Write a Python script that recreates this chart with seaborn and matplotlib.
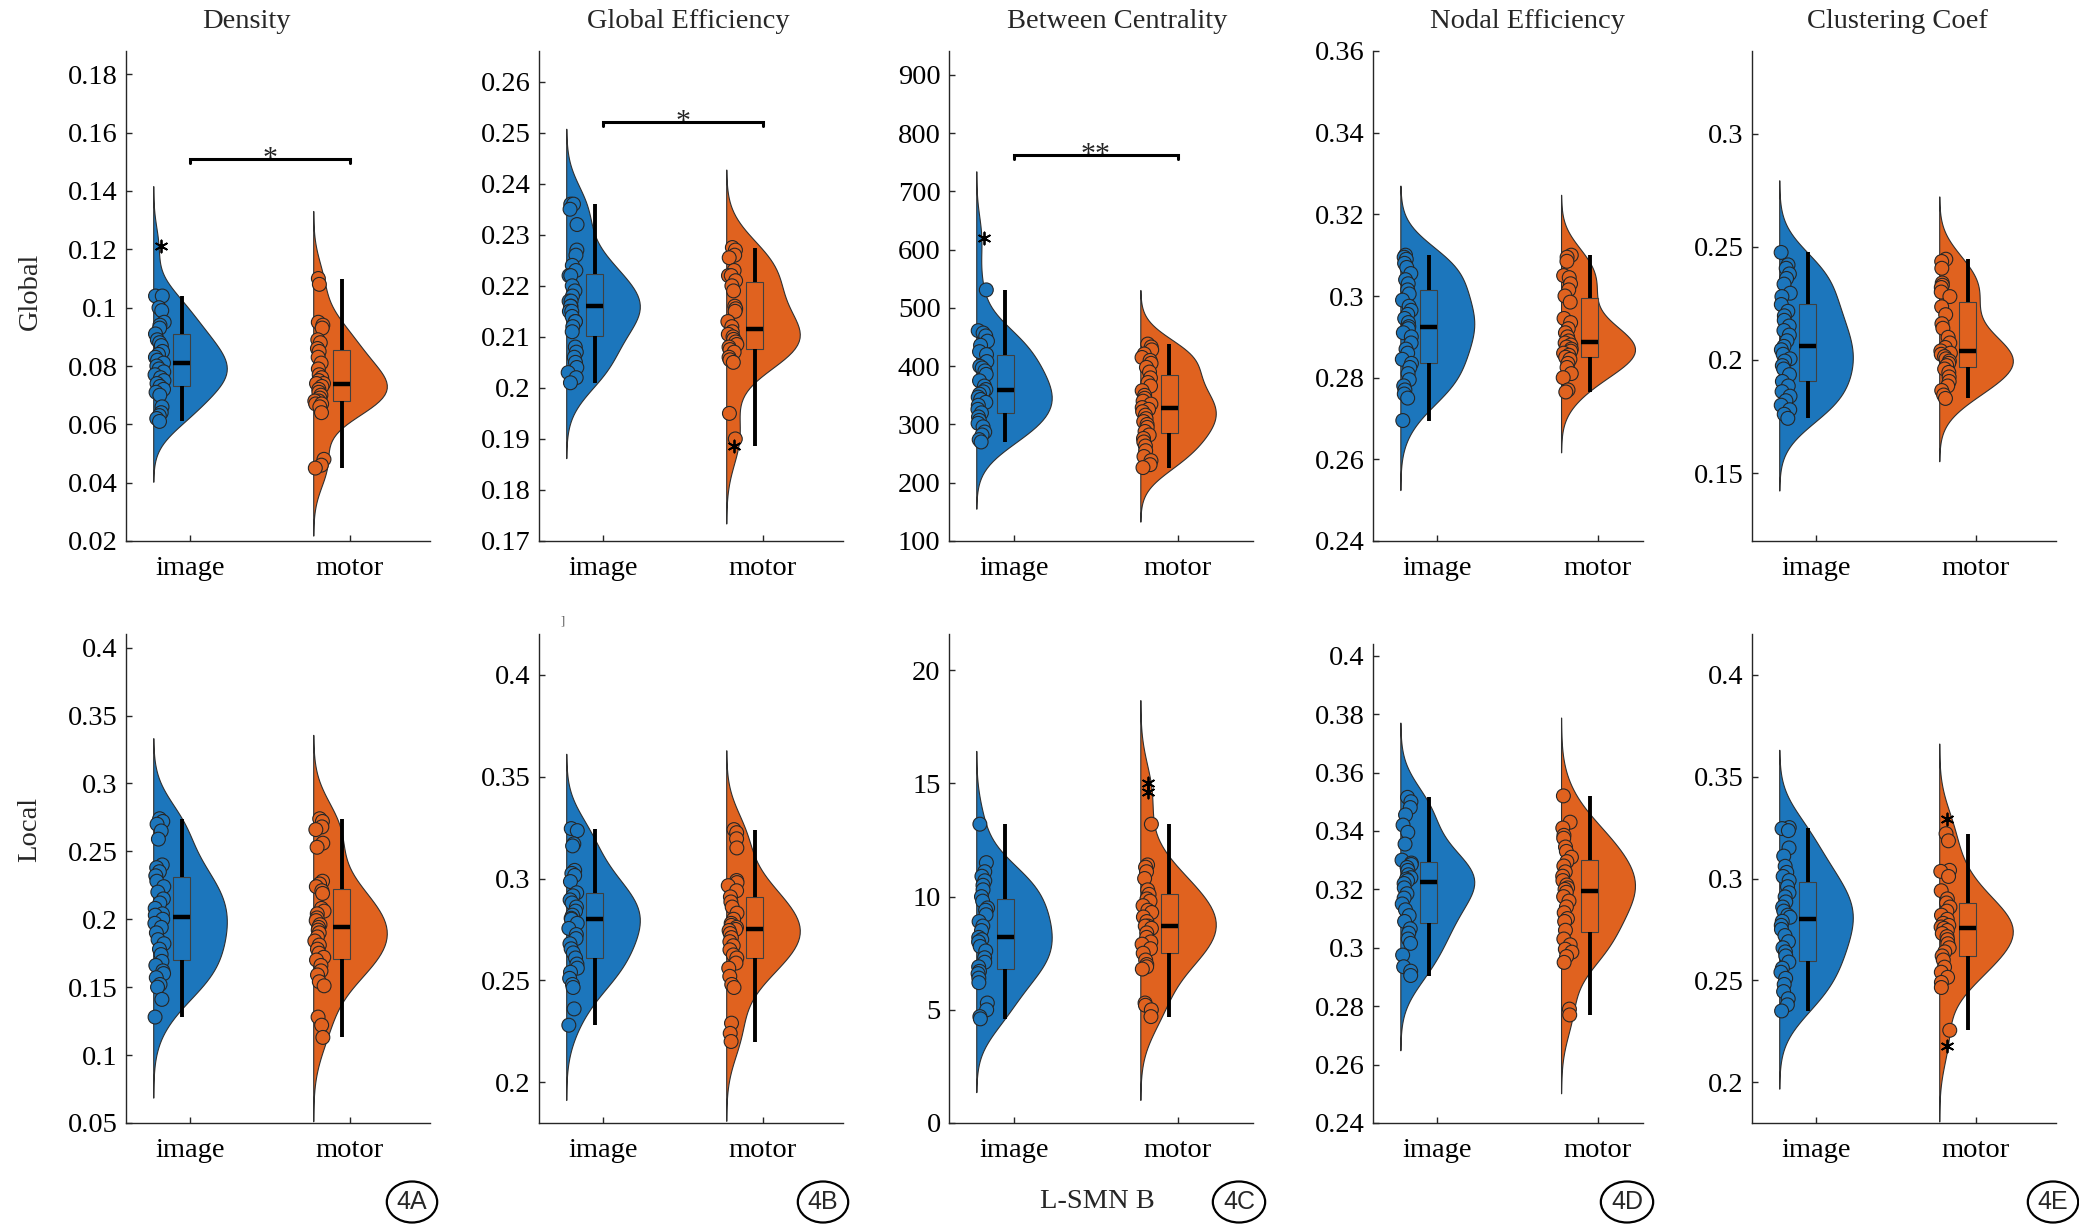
import numpy as np
import pandas as pd
import matplotlib.pyplot as plt
import seaborn as sns

sns.set_theme(style='ticks')
plt.rcParams['font.family'] = ['Liberation Serif', 'DejaVu Serif']
plt.rcParams['axes.edgecolor'] = '#262626'
plt.rcParams['axes.linewidth'] = 1.0
np.random.seed(7)  # strip jitter only

W, H = 2079, 1229
BLUE = '#1C76BC'
ORANGE = '#E0621F'
HUE_ORDER = ['_a', 'image', '_b', 'motor']
PAL = {'_a': BLUE, 'image': BLUE, '_b': ORANGE, 'motor': ORANGE}

titles = ['Density', 'Global Efficiency', 'Between Centrality', 'Nodal Efficiency', 'Clustering Coef']
row_labels = ['Global', 'Local']
panel_tags = ['4A', '4B', '4C', '4D', '4E']

# ---- Density ----
den_glob_img = [0.104, 0.104, 0.100, 0.099, 0.095, 0.094, 0.093, 0.091, 0.089, 0.088, 0.087,
                0.085, 0.084, 0.083, 0.082, 0.081, 0.080, 0.079, 0.078, 0.077, 0.076, 0.075,
                0.074, 0.073, 0.072, 0.071, 0.070, 0.066, 0.064, 0.063, 0.062, 0.061]
den_glob_img_out = [0.121]
den_glob_mot = [0.110, 0.108, 0.095, 0.094, 0.093, 0.089, 0.088, 0.086, 0.085, 0.083, 0.081,
                0.079, 0.077, 0.076, 0.075, 0.074, 0.074, 0.073, 0.072, 0.071, 0.070, 0.069,
                0.068, 0.068, 0.067, 0.067, 0.066, 0.064, 0.048, 0.046, 0.045]
den_glob_mot_out = []
den_loc_img = [0.274, 0.272, 0.270, 0.265, 0.259, 0.240, 0.238, 0.235, 0.232, 0.228, 0.224,
               0.220, 0.215, 0.212, 0.208, 0.204, 0.203, 0.200, 0.197, 0.194, 0.190, 0.185,
               0.182, 0.178, 0.174, 0.169, 0.166, 0.162, 0.160, 0.157, 0.152, 0.150, 0.141, 0.128]
den_loc_img_out = []
den_loc_mot = [0.274, 0.272, 0.268, 0.266, 0.256, 0.253, 0.228, 0.226, 0.224, 0.221, 0.219,
               0.208, 0.206, 0.204, 0.201, 0.199, 0.196, 0.194, 0.192, 0.190, 0.187, 0.184,
               0.181, 0.178, 0.175, 0.172, 0.170, 0.166, 0.162, 0.159, 0.154, 0.151, 0.128,
               0.122, 0.113]
den_loc_mot_out = []

# ---- Global Efficiency ----
geff_glob_img = [0.236, 0.236, 0.235, 0.232, 0.227, 0.226, 0.224, 0.223, 0.222, 0.222, 0.220,
                 0.219, 0.218, 0.217, 0.217, 0.216, 0.216, 0.215, 0.215, 0.214, 0.213, 0.213,
                 0.212, 0.211, 0.208, 0.207, 0.206, 0.205, 0.204, 0.203, 0.202, 0.201]
geff_glob_img_out = []
geff_glob_mot = [0.2275, 0.227, 0.226, 0.2255, 0.223, 0.222, 0.222, 0.221, 0.220, 0.219, 0.216,
                 0.2155, 0.215, 0.213, 0.212, 0.211, 0.2105, 0.210, 0.2095, 0.209, 0.2085,
                 0.208, 0.2075, 0.207, 0.206, 0.2055, 0.205, 0.195, 0.190]
geff_glob_mot_out = [0.1887]
geff_loc_img = [0.3245, 0.3235, 0.3170, 0.3160, 0.3040, 0.3025, 0.3015, 0.2985, 0.2930, 0.2915,
                0.2895, 0.2880, 0.2860, 0.2840, 0.2820, 0.2805, 0.2800, 0.2780, 0.2755, 0.2725,
                0.2705, 0.2680, 0.2655, 0.2635, 0.2610, 0.2580, 0.2560, 0.2540, 0.2510, 0.2480,
                0.2465, 0.2360, 0.2280]
geff_loc_img_out = []
geff_loc_mot = [0.3240, 0.3225, 0.3195, 0.3150, 0.2990, 0.2980, 0.2965, 0.2940, 0.2910, 0.2885,
                0.2860, 0.2830, 0.2800, 0.2780, 0.2770, 0.2760, 0.2750, 0.2745, 0.2730, 0.2710,
                0.2690, 0.2670, 0.2650, 0.2625, 0.2610, 0.2585, 0.2560, 0.2520, 0.2480, 0.2465,
                0.2290, 0.2240, 0.2200]
geff_loc_mot_out = []

# ---- Between Centrality ----
bc_glob_img = [531, 461, 457, 452, 443, 436, 425, 420, 408, 400, 397, 392, 386, 375, 366, 360,
               356, 352, 347, 343, 338, 333, 326, 320, 313, 307, 302, 296, 287, 282, 274, 270]
bc_glob_img_out = [620]
bc_glob_mot = [438, 433, 428, 421, 415, 410, 405, 398, 390, 380, 372, 366, 358, 350, 345, 340,
               335, 329, 326, 322, 316, 310, 305, 300, 295, 288, 282, 276, 270, 263, 255, 245,
               238, 231, 226]
bc_glob_mot_out = []
bc_loc_img = [13.2, 11.5, 11.1, 10.9, 10.7, 10.5, 10.3, 10.0, 9.8, 9.5, 9.4, 9.2, 8.9, 8.7, 8.5,
              8.2, 8.1, 8.0, 7.8, 7.6, 7.3, 7.1, 6.9, 6.7, 6.6, 6.4, 6.2, 5.3, 5.0, 4.7, 4.6]
bc_loc_img_out = []
bc_loc_mot = [13.2, 11.4, 11.3, 11.1, 10.8, 10.3, 10.1, 9.9, 9.8, 9.6, 9.4, 9.3, 9.1, 8.9, 8.7,
              8.7, 8.6, 8.4, 8.2, 8.0, 7.9, 7.7, 7.5, 7.2, 7.0, 6.9, 6.8, 5.3, 5.2, 5.0, 4.7]
bc_loc_mot_out = [15.0, 14.6]

# ---- Nodal Efficiency ----
neff_glob_img = [0.3100, 0.3095, 0.3090, 0.3080, 0.3070, 0.3055, 0.3040, 0.3030, 0.3015, 0.3005,
                 0.2990, 0.2975, 0.2965, 0.2955, 0.2945, 0.2935, 0.2925, 0.2920, 0.2910, 0.2900,
                 0.2885, 0.2870, 0.2860, 0.2845, 0.2835, 0.2825, 0.2810, 0.2795, 0.2780, 0.2770,
                 0.2760, 0.2750, 0.2695]
neff_glob_img_out = []
neff_glob_mot = [0.3100, 0.3095, 0.3085, 0.3050, 0.3045, 0.3030, 0.3015, 0.3000, 0.2985, 0.2945,
                 0.2935, 0.2920, 0.2910, 0.2900, 0.2890, 0.2885, 0.2880, 0.2875, 0.2870, 0.2865,
                 0.2860, 0.2855, 0.2850, 0.2845, 0.2835, 0.2825, 0.2810, 0.2800, 0.2770, 0.2765]
neff_glob_mot_out = []
neff_loc_img = [0.3515, 0.3500, 0.3480, 0.3455, 0.3420, 0.3395, 0.3355, 0.3300, 0.3290, 0.3285,
                0.3275, 0.3265, 0.3250, 0.3240, 0.3235, 0.3230, 0.3220, 0.3205, 0.3185, 0.3170,
                0.3150, 0.3130, 0.3110, 0.3090, 0.3065, 0.3050, 0.3030, 0.3015, 0.2975, 0.2935,
                0.2920, 0.2905]
neff_loc_img_out = []
neff_loc_mot = [0.3520, 0.3430, 0.3410, 0.3385, 0.3375, 0.3345, 0.3330, 0.3310, 0.3295, 0.3280,
                0.3260, 0.3245, 0.3230, 0.3215, 0.3205, 0.3200, 0.3190, 0.3175, 0.3160, 0.3140,
                0.3120, 0.3100, 0.3090, 0.3060, 0.3030, 0.3010, 0.2995, 0.2985, 0.2970, 0.2950,
                0.2790, 0.2770]
neff_loc_mot_out = []

# ---- Clustering Coef ----
cc_glob_img = [0.2475, 0.2420, 0.2405, 0.2380, 0.2360, 0.2335, 0.2295, 0.2280, 0.2245, 0.2215,
               0.2195, 0.2175, 0.2150, 0.2130, 0.2110, 0.2085, 0.2060, 0.2045, 0.2025, 0.2005,
               0.1995, 0.1975, 0.1960, 0.1935, 0.1905, 0.1885, 0.1860, 0.1840, 0.1820, 0.1800,
               0.1780, 0.1760, 0.1742]
cc_glob_img_out = []
cc_glob_mot = [0.2445, 0.2435, 0.2405, 0.2340, 0.2330, 0.2320, 0.2300, 0.2280, 0.2235, 0.2200,
               0.2160, 0.2140, 0.2100, 0.2075, 0.2055, 0.2040, 0.2030, 0.2025, 0.2015, 0.2005,
               0.1995, 0.1985, 0.1975, 0.1960, 0.1945, 0.1925, 0.1905, 0.1885, 0.1865, 0.1845,
               0.1830]
cc_glob_mot_out = []
cc_loc_img = [0.3250, 0.3245, 0.3235, 0.3150, 0.3110, 0.3060, 0.3030, 0.3010, 0.2990, 0.2960,
              0.2930, 0.2910, 0.2885, 0.2860, 0.2840, 0.2820, 0.2810, 0.2790, 0.2770, 0.2750,
              0.2720, 0.2690, 0.2660, 0.2640, 0.2620, 0.2590, 0.2560, 0.2540, 0.2510, 0.2480,
              0.2445, 0.2410, 0.2380, 0.2350]
cc_loc_img_out = []
cc_loc_mot = [0.3220, 0.3185, 0.3040, 0.3035, 0.3010, 0.2940, 0.2900, 0.2880, 0.2860, 0.2840,
              0.2820, 0.2800, 0.2780, 0.2770, 0.2762, 0.2755, 0.2745, 0.2730, 0.2715, 0.2700,
              0.2680, 0.2660, 0.2640, 0.2620, 0.2600, 0.2565, 0.2540, 0.2515, 0.2490, 0.2465,
              0.2255]
cc_loc_mot_out = [0.3293, 0.2177]

panels = {
    (0, 0): (den_glob_img, den_glob_img_out, den_glob_mot, den_glob_mot_out),
    (0, 1): (geff_glob_img, geff_glob_img_out, geff_glob_mot, geff_glob_mot_out),
    (0, 2): (bc_glob_img, bc_glob_img_out, bc_glob_mot, bc_glob_mot_out),
    (0, 3): (neff_glob_img, neff_glob_img_out, neff_glob_mot, neff_glob_mot_out),
    (0, 4): (cc_glob_img, cc_glob_img_out, cc_glob_mot, cc_glob_mot_out),
    (1, 0): (den_loc_img, den_loc_img_out, den_loc_mot, den_loc_mot_out),
    (1, 1): (geff_loc_img, geff_loc_img_out, geff_loc_mot, geff_loc_mot_out),
    (1, 2): (bc_loc_img, bc_loc_img_out, bc_loc_mot, bc_loc_mot_out),
    (1, 3): (neff_loc_img, neff_loc_img_out, neff_loc_mot, neff_loc_mot_out),
    (1, 4): (cc_loc_img, cc_loc_img_out, cc_loc_mot, cc_loc_mot_out),
}

# axis limits and y ticks (start, stop, step)
ylims = {
    (0, 0): (0.02, 0.188), (0, 1): (0.17, 0.266), (0, 2): (100, 941), (0, 3): (0.24, 0.36),
    (0, 4): (0.12, 0.3365),
    (1, 0): (0.05, 0.41), (1, 1): (0.18, 0.42), (1, 2): (0, 21.6), (1, 3): (0.24, 0.404),
    (1, 4): (0.18, 0.42),
}
yticks = {
    (0, 0): (0.02, 0.18, 0.02), (0, 1): (0.17, 0.26, 0.01), (0, 2): (100, 900, 100),
    (0, 3): (0.24, 0.36, 0.02), (0, 4): (0.15, 0.30, 0.05),
    (1, 0): (0.05, 0.40, 0.05), (1, 1): (0.20, 0.40, 0.05), (1, 2): (0, 20, 5),
    (1, 3): (0.24, 0.40, 0.02), (1, 4): (0.20, 0.40, 0.05),
}
# significance brackets on the top row
sig = {(0, 0): (0.151, '*'), (0, 1): (0.2521, '*'), (0, 2): (762, '**')}

# layout in pixels
col_px = [(126, 430), (539, 843), (949, 1253), (1373, 1643), (1752, 2056)]
row_top = [[51] * 5, [634, 634, 634, 644, 634]]
row_bot = [541, 1123]
xlims = [(-0.4, 1.5), (-0.4, 1.5), (-0.396, 1.457), (-0.4, 1.28), (-0.4, 1.5)]
title_x = [246, 688, 1117, 1527, 1897]
tag_x = [412, 823, 1239, 1627, 2053]

FS = 20.5


def raincloud(ax, img, img_out, mot, mot_out):
    full = pd.DataFrame({
        'group': ['image'] * (len(img) + len(img_out)) + ['motor'] * (len(mot) + len(mot_out)),
        'value': list(img) + list(img_out) + list(mot) + list(mot_out),
    })
    full['slot'] = full['group'].map({'image': 0.0, 'motor': 1.0})
    pts = pd.DataFrame({'group': ['image'] * len(img) + ['motor'] * len(mot),
                        'value': list(img) + list(mot)})
    pts['slot'] = pts['group'].map({'image': -0.19, 'motor': 0.81})
    outl = pd.DataFrame({'group': ['image'] * len(img_out) + ['motor'] * len(mot_out),
                         'value': list(img_out) + list(mot_out)})

    sns.violinplot(data=full, x='slot', y='value', hue='group', hue_order=HUE_ORDER,
                   palette=PAL, native_scale=True, split=True, dodge=False, inner=None,
                   density_norm='width', width=0.46, cut=3, saturation=1,
                   linecolor='#303030', linewidth=0.8, legend=False, ax=ax)
    sns.boxplot(data=full.assign(slot=full['slot'] - 0.0525), x='slot', y='value',
                hue='group', hue_order=HUE_ORDER, palette=PAL, native_scale=True,
                dodge=False, width=0.105, saturation=1, showfliers=False, showcaps=False,
                linecolor='#404040', linewidth=0.8,
                whiskerprops=dict(color='black', linewidth=2.8),
                medianprops=dict(color='black', linewidth=3.2),
                legend=False, ax=ax)
    sns.stripplot(data=pts, x='slot', y='value', hue='group', hue_order=HUE_ORDER,
                  palette=PAL, native_scale=True, dodge=False, jitter=0.03, size=10,
                  edgecolor='#262626', linewidth=0.8, legend=False, ax=ax, zorder=4)
    if len(outl):
        outl['slot'] = outl['group'].map({'image': -0.18, 'motor': 0.82})
        sns.scatterplot(data=outl, x='slot', y='value', marker=(6, 2, 0), color='black',
                        s=75, linewidth=1.3, legend=False, ax=ax, zorder=5)


fig = plt.figure(figsize=(W / 100, H / 100), dpi=100)

for (r, c), arrs in panels.items():
    left, right = col_px[c]
    top, bot = row_top[r][c], row_bot[r]
    ax = fig.add_axes([left / W, 1 - bot / H, (right - left) / W, (bot - top) / H])
    raincloud(ax, *arrs)

    ax.set_xlim(*xlims[c])
    ax.set_ylim(*ylims[(r, c)])
    t0, t1, st = yticks[(r, c)]
    ticks = np.round(np.arange(t0, t1 + st / 2, st), 4)
    ax.set_yticks(ticks)
    ax.set_yticklabels([f'{v:g}' for v in ticks])
    ax.set_xticks([0, 1])
    ax.set_xticklabels(['image', 'motor'])
    ax.set_xlabel('')
    ax.set_ylabel('')
    for s in ['top', 'right']:
        ax.spines[s].set_visible(False)
    ax.tick_params(axis='both', direction='in', length=4, width=1, color='#262626',
                   labelsize=FS, labelcolor='black')
    ax.tick_params(axis='y', pad=6)
    ax.tick_params(axis='x', pad=11)

    if (r, c) in sig:
        yb, star = sig[(r, c)]
        lo, hi = ylims[(r, c)]
        d = 4 * (hi - lo) / (bot - top)
        ax.plot([0, 0, 1, 1], [yb - d, yb, yb, yb - d], color='black', lw=2.2,
                solid_joinstyle='miter', zorder=6)
        ax.annotate(star, xy=(0.5, yb), xytext=(0, -5), textcoords='offset points',
                    ha='center', va='baseline', fontsize=FS + 1)

# titles, row labels, panel tags
for c, t in enumerate(titles):
    fig.text(title_x[c] / W, 1 - 21 / H, t, ha='center', va='center', fontsize=FS)
fig.text(30 / W, 1 - 291 / H, row_labels[0], rotation=90, ha='center', va='center', fontsize=FS)
fig.text(30 / W, 1 - 829 / H, row_labels[1], rotation=90, ha='center', va='center', fontsize=FS)
for c, tag in enumerate(panel_tags):
    fig.text(tag_x[c] / W, 1 - 1202 / H, tag, ha='center', va='center', fontsize=18,
             family=['Liberation Sans', 'DejaVu Sans'],
             bbox=dict(boxstyle='ellipse,pad=0.1', fc='white', ec='black', lw=1.6))
fig.text(1097 / W, 1 - 1202 / H, 'L-SMN B', ha='center', va='center', fontsize=FS)
fig.text(563 / W, 1 - 622 / H, ']', ha='center', va='center', fontsize=9, color='#555555')

fig.savefig('out.png', dpi=100)
